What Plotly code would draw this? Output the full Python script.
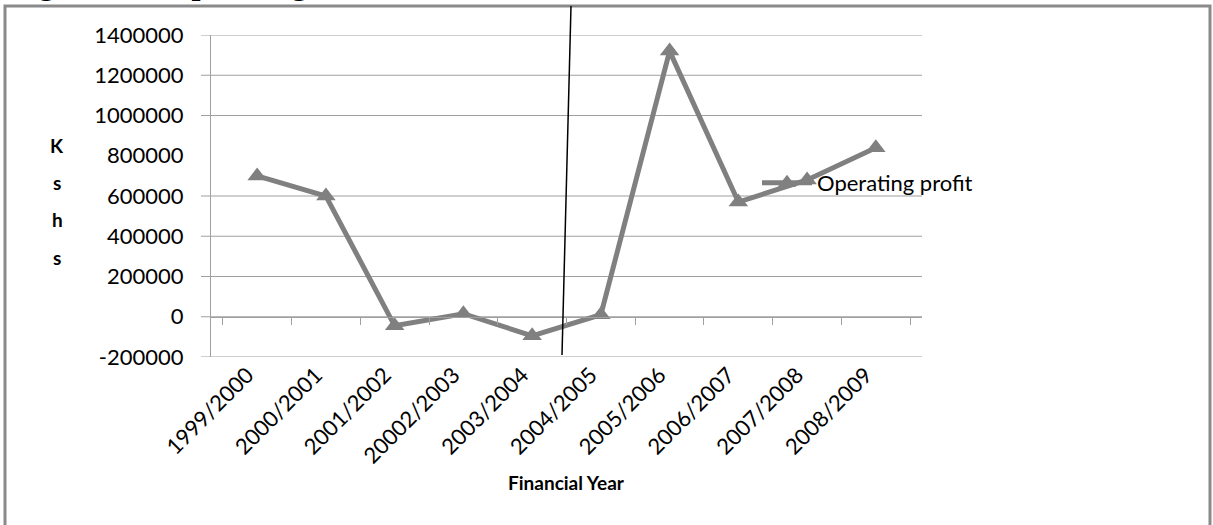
import plotly.graph_objects as go

# Operating profit per financial year (Kshs)
years = ["1999/2000", "2000/2001", "2001/2002", "20002/2003", "2003/2004",
         "2004/2005", "2005/2006", "2006/2007", "2007/2008", "2008/2009"]
operating_profit = [700000, 600000, -45000, 15000, -95000,
                    10000, 1320000, 570000, 680000, 840000]

y_ticks = [-200000, 0, 200000, 400000, 600000, 800000, 1000000, 1200000, 1400000]
grid_levels = [-200000, 0, 200000, 400000, 600000, 1000000, 1200000, 1400000]

W, H = 1213, 525
L, R, T, B = 211, 291, 35, 168
PW, PH = W - L - R, H - T - B


def fx(px):
    """Pixel column -> paper x."""
    return (px - L) / PW


def fy(py):
    """Pixel row -> paper y."""
    return (H - B - py) / PH


GREY = "#808080"
GRID = "#a0a0a0"
FONT = "Lato"

fig = go.Figure()

fig.add_trace(go.Scatter(
    x=years, y=operating_profit, name="Operating profit",
    mode="lines+markers",
    line=dict(color=GREY, width=5),
    marker=dict(symbol="triangle-up", size=17, color=GREY),
))

# invisible copy so the category axis drawn at zero gets a range
fig.add_trace(go.Scatter(
    x=years, y=operating_profit, xaxis="x2", mode="markers",
    marker=dict(opacity=0), showlegend=False, hoverinfo="skip",
))

shapes = []
for level in grid_levels:
    shapes.append(dict(type="line", xref="paper", yref="y",
                       x0=fx(201), x1=1, y0=level, y1=level,
                       line=dict(color=GRID, width=1.2), layer="below"))

# outer frame of the chart
shapes.append(dict(type="rect", xref="paper", yref="paper",
                   x0=fx(5), x1=fx(1210), y0=fy(545), y1=fy(6),
                   line=dict(color="#8a8a8a", width=3)))
# thin black stroke crossing the chart
shapes.append(dict(type="line", xref="paper", yref="paper",
                   x0=fx(571), y0=fy(6), x1=fx(562), y1=fy(355),
                   line=dict(color="black", width=1.5)))

annotations = [
    dict(text="<b>Figure 4.3: Operating Profit</b>", xref="paper", yref="paper",
         x=fx(8), y=fy(3), xanchor="left", yanchor="bottom", showarrow=False,
         font=dict(family="Liberation Serif", size=32, color="black")),
    dict(text="<b>Financial Year</b>", xref="paper", yref="paper",
         x=0.5, y=fy(482), xanchor="center", yanchor="middle", showarrow=False,
         font=dict(family=FONT, size=19, color="black")),
]
for i, ch in enumerate("Kshs"):
    annotations.append(dict(text=f"<b>{ch}</b>", xref="paper", yref="paper",
                            x=fx(57), y=fy(145 + 37.5 * i), xanchor="center",
                            yanchor="middle", showarrow=False,
                            font=dict(family=FONT, size=19, color="black")))

fig.update_layout(
    width=W, height=H,
    margin=dict(l=L, r=R, t=T, b=B),
    paper_bgcolor="white", plot_bgcolor="white",
    font=dict(family=FONT, size=22, color="black"),
    showlegend=True,
    legend=dict(x=fx(757), y=fy(183), xanchor="left", yanchor="middle",
                bgcolor="rgba(0,0,0,0)", font=dict(family=FONT, size=22),
                itemwidth=50),
    xaxis=dict(type="category", categoryorder="array", categoryarray=years,
               tickangle=-45, ticks="", showgrid=False, showline=False,
               zeroline=False, ticklabelshift=-10,
               tickfont=dict(family=FONT, size=22)),
    xaxis2=dict(type="category", matches="x", overlaying="x", anchor="free",
                position=(0 - y_ticks[0]) / (y_ticks[-1] - y_ticks[0]),
                showticklabels=False, ticks="outside", tickson="boundaries",
                ticklen=7, tickcolor=GRID, showline=True, linecolor=GRID,
                linewidth=1.2, showgrid=False, zeroline=False),
    yaxis=dict(range=[y_ticks[0], y_ticks[-1]], tickvals=y_ticks,
               ticktext=[str(v) for v in y_ticks], ticks="",
               ticklabelstandoff=22, showgrid=False, zeroline=False,
               showline=True, linecolor=GRID, linewidth=1.2,
               tickfont=dict(family=FONT, size=22)),
    shapes=shapes,
    annotations=annotations,
)

fig.write_html("out.html")
